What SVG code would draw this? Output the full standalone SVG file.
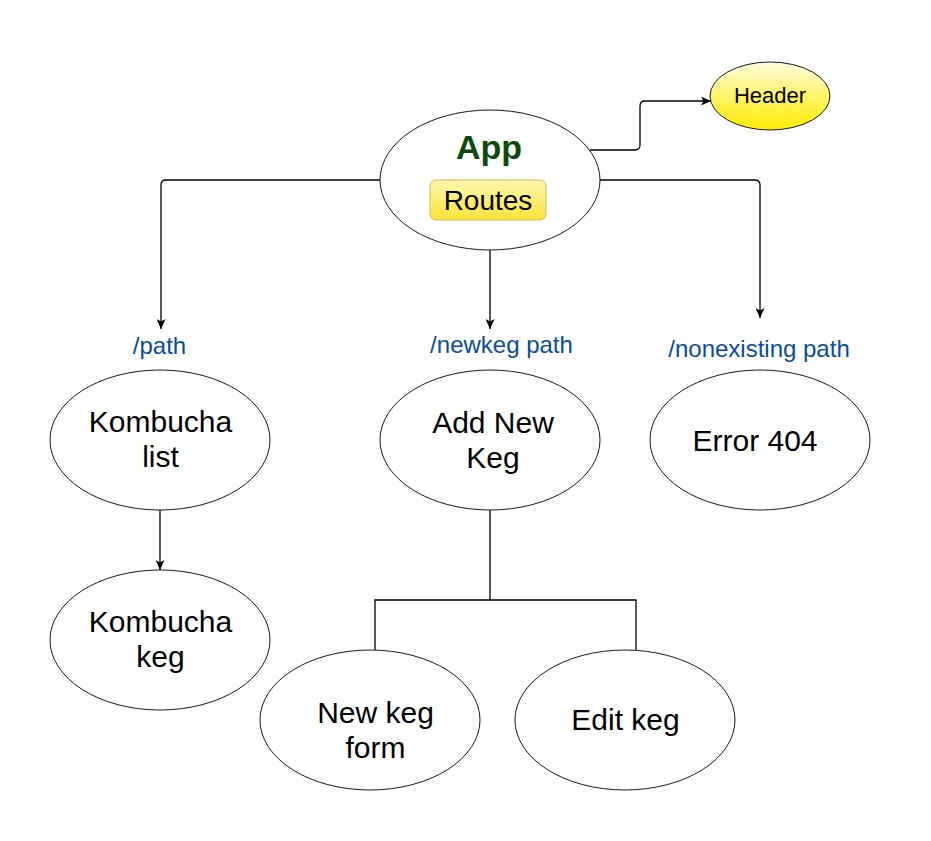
<svg xmlns="http://www.w3.org/2000/svg" width="931" height="841" viewBox="0 0 931 841">
<style>
.node{fill:#ffffff;stroke:#1a1a1a;stroke-width:1}
.t{font-family:"Liberation Sans",Arial,Helvetica,sans-serif;font-size:30px;fill:#000;text-anchor:middle}
.lbl{font-family:"Liberation Sans",Arial,Helvetica,sans-serif;font-size:24px;fill:#0b4d96;text-anchor:middle}
.edge{fill:none;stroke:#000;stroke-width:1.3}
</style>
<defs>
<linearGradient id="gHeader" x1="0" y1="0" x2="0" y2="1">
<stop offset="0" stop-color="#fffde0"/>
<stop offset="0.5" stop-color="#fff46a"/>
<stop offset="1" stop-color="#ffec00"/>
</linearGradient>
<linearGradient id="gRoutes" x1="0" y1="0" x2="0" y2="1">
<stop offset="0" stop-color="#fff8b0"/>
<stop offset="1" stop-color="#ffe43a"/>
</linearGradient>
<marker id="arr" viewBox="0 0 10 9" refX="10" refY="4.5" markerWidth="10" markerHeight="9" markerUnits="userSpaceOnUse" orient="auto">
<path d="M0,0 L10,4.5 L0,9 L2.5,4.5 z" fill="#000"/>
</marker>
</defs>
<rect width="931" height="841" fill="#ffffff"/>

<g id="connectors">
<path class="edge" d="M380,180 H166 Q161,180 161,185 V329" marker-end="url(#arr)"/>
<path class="edge" d="M490,250 V329" marker-end="url(#arr)"/>
<path class="edge" d="M600,180 H755 Q760,180 760,185 V318" marker-end="url(#arr)"/>
<path class="edge" d="M590,150 H635 Q640,150 640,145 V106 Q640,101 645,101 H711" marker-end="url(#arr)"/>
<path class="edge" d="M160,510 V570" marker-end="url(#arr)"/>
<path class="edge" d="M490,510 V600 M375,650 V600 H636 V650"/>
</g>

<g id="app">
<ellipse class="node" cx="490" cy="180" rx="110" ry="70"/>
<text x="489" y="159" font-family="Liberation Sans,Arial,sans-serif" font-size="34" font-weight="bold" fill="#0b4a0b" text-anchor="middle">App</text>
<g id="routes">
<rect x="430" y="180" width="116" height="40" rx="6" ry="6" fill="url(#gRoutes)" stroke="#d6b656" stroke-width="1"/>
<text x="488" y="210" font-family="Liberation Sans,Arial,sans-serif" font-size="28" fill="#000" text-anchor="middle">Routes</text>
</g>
</g>

<g id="header">
<ellipse cx="770" cy="96" rx="60" ry="34" fill="url(#gHeader)" stroke="#1a1a1a" stroke-width="1"/>
<text x="770" y="103" font-family="Liberation Sans,Arial,sans-serif" font-size="22" fill="#000" text-anchor="middle">Header</text>
</g>

<g id="label-path"><text class="lbl" x="159.5" y="354">/path</text></g>
<g id="label-newkeg"><text class="lbl" x="501.5" y="353">/newkeg path</text></g>
<g id="label-nonexisting"><text class="lbl" x="759" y="357">/nonexisting path</text></g>

<g id="kombucha-list">
<ellipse class="node" cx="160" cy="440" rx="110" ry="70"/>
<text class="t" x="160.5" y="432">Kombucha</text>
<text class="t" x="160.5" y="467">list</text>
</g>

<g id="add-new-keg">
<ellipse class="node" cx="490" cy="440" rx="110" ry="70"/>
<text class="t" x="493" y="433">Add New</text>
<text class="t" x="493" y="468">Keg</text>
</g>

<g id="error-404">
<ellipse class="node" cx="760" cy="440" rx="110" ry="70"/>
<text class="t" x="755" y="451">Error 404</text>
</g>

<g id="kombucha-keg">
<ellipse class="node" cx="160" cy="640" rx="110" ry="70"/>
<text class="t" x="160.5" y="632">Kombucha</text>
<text class="t" x="160.5" y="667">keg</text>
</g>

<g id="new-keg-form">
<ellipse class="node" cx="370" cy="720" rx="110" ry="70"/>
<text class="t" x="375.5" y="723">New keg</text>
<text class="t" x="375.5" y="758">form</text>
</g>

<g id="edit-keg">
<ellipse class="node" cx="625" cy="720" rx="110" ry="70"/>
<text class="t" x="625.5" y="730">Edit keg</text>
</g>
</svg>
